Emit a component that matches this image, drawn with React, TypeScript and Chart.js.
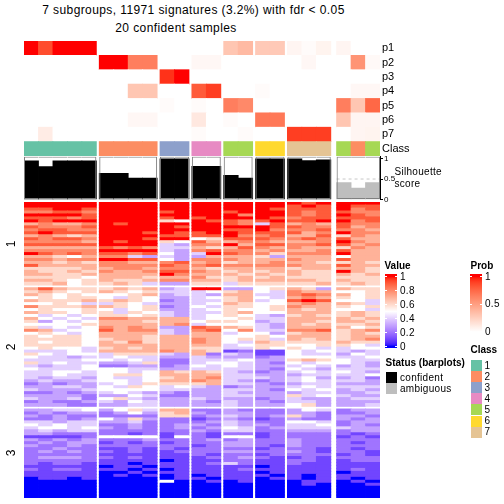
import React, { useEffect, useRef } from "react";
import { Chart, registerables } from "chart.js";

Chart.register(...registerables);

// ---------------- data ----------------
const TITLE_LINE_1 = "7 subgroups, 11971 signatures (3.2%) with fdr < 0.05";
const TITLE_LINE_2 = "20 confident samples";

// samples (columns), in plotted order
const SAMPLE_CLASS = [1, 1, 1, 1, 1, 2, 2, 2, 2, 3, 3, 4, 4, 5, 5, 6, 6, 7, 7, 7, 5, 2, 5];
const SAMPLE_CONFIDENT = [
  true, true, true, true, true, true, true, true, true, true, true, true,
  true, true, true, true, true, true, true, true, false, false, false,
];
const SILHOUETTE = [
  0.94, 0.8, 0.94, 0.94, 0.94, 0.64, 0.64, 0.52, 0.52, 0.99, 0.99, 0.81,
  0.81, 0.59, 0.52, 0.99, 0.99, 0.99, 0.95, 0.97, 0.41, 0.28, 0.41,
];

// membership probabilities
const PROB_P1 = [1, 0.85, 1, 1, 1, 0, 0, 0, 0, 0, 0, 0, 0, 0.3, 0.36, 0.28, 0.28, 0.05, 0.02, 0.06, 0.05, 0, 0];
const PROB_P2 = [0, 0, 0, 0, 0, 1, 1, 0.65, 0.65, 0, 0, 0.04, 0.04, 0, 0, 0, 0, 0, 0.04, 0, 0, 0.55, 0.03];
const PROB_P3 = [0, 0, 0, 0, 0, 0, 0, 0, 0, 0.93, 1, 0, 0, 0, 0, 0, 0, 0, 0, 0, 0, 0, 0];
const PROB_P4 = [0, 0, 0, 0, 0, 0, 0, 0.3, 0.3, 0, 0, 0.8, 0.9, 0, 0, 0.02, 0, 0, 0, 0, 0, 0.04, 0.04];
const PROB_P5 = [0, 0, 0, 0, 0, 0, 0, 0, 0, 0.02, 0, 0.02, 0, 0.65, 0.6, 0, 0, 0, 0, 0, 0.65, 0.3, 0.75];
const PROB_P6 = [0, 0, 0, 0, 0, 0, 0, 0.04, 0.04, 0, 0, 0.12, 0, 0.02, 0, 0.68, 0.68, 0, 0, 0, 0.3, 0.05, 0.05];
const PROB_P7 = [0, 0.1, 0, 0, 0, 0, 0, 0, 0, 0, 0, 0.02, 0, 0, 0.02, 0, 0, 0.9, 0.9, 0.9, 0, 0.05, 0.06];
const PROB_NAMES = ["p1", "p2", "p3", "p4", "p5", "p6", "p7"];
const CLASS_ANNOTATION_NAME = "Class";

const CLASS_LEVELS = ["1", "2", "3", "4", "5", "6", "7"];
const CLASS_COLORS = ["#66C2A5", "#FC8D62", "#8DA0CB", "#E78AC3", "#A6D854", "#FFD92F", "#E5C494"];
const STATUS_LEVELS = ["confident", "ambiguous"];
const STATUS_COLORS = ["#000000", "#BEBEBE"];

const VALUE_BREAKS = [0, 0.5, 1];
const VALUE_COLORS = ["#0000FF", "#FFFFFF", "#FF0000"];
const PROB_BREAKS = [0, 1];
const PROB_COLORS = ["#FFFFFF", "#FF0000"];
const VALUE_LEGEND_TICKS = [0, 0.2, 0.4, 0.6, 0.8, 1];
const PROB_LEGEND_TICKS = [0, 0.5, 1];
const SILHOUETTE_TICKS = [0, 0.5, 1];
const SLICE_LABELS = ["1", "2", "3"];

// heatmap rows: one letter per sample, a = 0.0 ... f = 0.5 ... k = 1.0
// (spaces only separate the column groups for readability)
const HEATMAP_SLICE_1 = [
  "kkkkk kkkk kk kk kk kk kjk kkk",
  "kkkkk kkkk kk kk kk kk jkj kjj",
  "jjkkj kkkk kk kk kk kj jjj kij",
  "iijji kkkk jk kk jk kk jij jii",
  "kkkkj kkkk kk kk ki kk jij kji",
  "jjjij kkkk jk jk kk kj ijj jjj",
  "kjkkk kkkk gf kj ji jk jjk kij",
  "hihhi kjkk kk kk ji ej hih jii",
  "jiiij kkkk kj kk kk kj jii jhi",
  "ijjii kkkk kk kk jj ki iij iih",
  "jkjjj kkkj kj jk kj jj jhi kii",
  "hihgh kkkk jj jj ki ij hhj gih",
  "jijji kkkj kk fg jj ji iji jhh",
  "iiiih kjkk gf jh hi ih hhi kih",
  "jjjjj kkkk ed ii kh jj iij jhi",
  "hhhhh jiji ee hg hj ih ihh gih",
  "iiiii kkkk ed ij ii hi hhi jhh",
  "kjiji jjij fd ek ji ig iii khh",
  "hhgfh iied ed dh hh gd hhh fhh",
  "iihii kkjj fd ii ih hh ihh jhh",
  "hhghg iihh ij hi gh hi hhg ghg",
  "jhhhh iiii ji ij ii ii ihh jhh",
  "ggggh hiih ii hg hh hh ghh hhg",
  "hgghg ihhi jj ih gh gh hgg khg",
  "hhggh hhhh ki hh hg hg hgg hgh",
  "ggggf hhhg hh ig gh gh ggg ggg",
  "hhgfg hggh ii hh gh hh hhg hgg",
  "gghfg ghge dd gg eg gg ggh ghg",
];
const HEATMAP_SLICE_2 = [
  "hjhgg ghgh de kk dd fg hgd hgg",
  "ghgfg hgfg ee ef gh fe ihh ffg",
  "hgfgf ffgh de ed hh ee iji hfg",
  "fgfgg fegf dd ef gh fe hih gfg",
  "hgggh ghgf cd ee gh ef jkj ffe",
  "ffgfe egfe dd ef hg ff hih hge",
  "igggh hgfg cd fe gg fg ihh gfg",
  "fgffg fefg dd ef gf fg hgh ffe",
  "hggfg gegf ed ee gh ff hhh ghg",
  "fefef ggfg ed ef gf ed ghg ghg",
  "hfefe iihh hh ef fg ee hhh hgh",
  "gdfef hhhg hh fg gf de hhg hhg",
  "ffffg hhhh hi ef ff ed hgh ggh",
  "gefef ihih dd ji hg ed hhh hfg",
  "iheff jhii ed ij fi ee iij ghi",
  "fgfef hhhh ed hh ef fd ghh ghg",
  "gfggf hhhg hh hh ff gf hhh ghh",
  "ggggf ghhg hh ih fg ge hgh ghi",
  "gfggf hgig hh ih fe hg ggg hgg",
  "ggggf hhhh hh hh ef gg ffg gfe",
  "fgffe ghgh hh gg ee gf gfe eff",
  "eeefe hhhh ih hg bc bb fef ede",
  "gfeff eggg ed hc ed bb fee dfe",
  "feede efee dd ed dd cd fff eef",
  "eeeef fefe cc ee ef dd ghg fee",
  "gefee ddeg cc ef fe dc fef fed",
  "edeef ccdd cd fe fe dd efe ded",
  "feeef ffee dd ee ee dc fed eee",
  "eeffe ffef hg hg ed cd efe fed",
  "eefee fggf hh hh ee dd dee eef",
  "edeed feef gh hi ee ed efd dec",
  "dedde ffef hh ih ed cd efe eed",
  "cdcdd efeg gg gh ee dc dee ddd",
  "ddeed fegf ef ed cd dd efe eee",
  "eddde ffff ee dd ee dc fef ded",
  "ccdcd efed dc dd ed dd dee dde",
  "ddddc ddfe cc dd ee dd gef edd",
  "eddec fged dd ed dd cd edd dee",
  "cdccd edfe dd dc ed dc eed ddd",
  "dddcc ddee dd dd ed dd fgd dde",
];
const HEATMAP_SLICE_3 = [
  "ddeef dfge hh cc dc cc dfe cdd",
  "cdcdd cdfd gh dc dd cc ddc ccd",
  "dcdcc cccc gg cd ed cd gdc ddc",
  "ccdcd fdgd cc bc dc bc dcc dcd",
  "eedee ddec cc cd ed cc ffe cdd",
  "fefee ccdc cd dc ed dc eef cdc",
  "effef dcdc cd cd fe cd eee edd",
  "dedee cccc cc dc ee cc ddd cdd",
  "ddccc ccbc bc cb cc bc ccc cbc",
  "bbbbc ffff bf cb ff bc ccc bcb",
  "dcdcd cccd cc cd cd cc dcc ccc",
  "cdcdd bcbc bc cc dd cc dcc cbc",
  "dccdc cccc cc bc dd cb dcc ccc",
  "ccdcc bbcb cb cc cc bc ccb cbc",
  "cdcdc cbcb bc cc dd cc dcb ccb",
  "ccccc bbbb bb cb cc bc ccc bcb",
  "cdddc cbcb bb bc cd cb bcb ccc",
  "ccccc bbbb ab bb cc bb ccb bcc",
  "cbccb bbab bb bc ec bb cbb bbb",
  "bbbbb abba bb bb bb ab bbb bbb",
  "cbccb bbab ab bb bc bb bbb bcb",
  "bbbbb aaba bb bb bb ab bbb abb",
  "bbbbb abab ab ab bb ba bab bbb",
  "abbab aaaa ab ba bb ab bab bab",
  "aaaaa aaaa fa ab ab aa abb aba",
  "aaaaa aaaa aa aa aa aa aba aab",
  "aaaaa aaaa aa aa aa aa aaa aaa",
  "aaaaa aaaa aa aa aa aa aaa aaa",
  "aaaaa aaaa aa aa aa aa aaa aaa",
  "aaaaa aaaa aa aa aa aa aaa aaa",
];

// ---------------- layout / style ----------------
const FONT = '"Liberation Sans", Arial, Helvetica, sans-serif';
const GROUP_GAP = 0.2;
const AMBIGUOUS_GAP = 0.4;
const SLICE_GAP = 0.85;
const SIL_MAX = 1.05;
const HEAT_LEFT = 24;
const HEAT_RIGHT = 380;
const HEAT_TOP = 202;
const HEAT_HEIGHT = 296;

// ---------------- helpers ----------------
const decodeRow = (s: string) =>
  s.replace(/ /g, "").split("").map((c) => (c.charCodeAt(0) - 97) / 10);

function hexToRgb(hex: string) {
  const n = parseInt(hex.slice(1), 16);
  return [(n >> 16) & 255, (n >> 8) & 255, n & 255];
}
const toLinear = (c: number) => {
  const s = c / 255;
  return s <= 0.04045 ? s / 12.92 : Math.pow((s + 0.055) / 1.055, 2.4);
};
const fromLinear = (c: number) => {
  const s = c <= 0.0031308 ? 12.92 * c : 1.055 * Math.pow(Math.max(c, 0), 1 / 2.4) - 0.055;
  return Math.round(Math.min(1, Math.max(0, s)) * 255);
};
const XN = 0.95047, ZN = 1.08883;
const labF = (t: number) => (t > 216 / 24389 ? Math.cbrt(t) : ((24389 / 27) * t + 16) / 116);
const labFInv = (t: number) => {
  const t3 = t * t * t;
  return t3 > 216 / 24389 ? t3 : (116 * t - 16) / (24389 / 27);
};
function rgbToLab(rgb: number[]) {
  const [r, g, b] = rgb.map(toLinear);
  const x = (0.4124564 * r + 0.3575761 * g + 0.1804375 * b) / XN;
  const y = 0.2126729 * r + 0.7151522 * g + 0.072175 * b;
  const z = (0.0193339 * r + 0.119192 * g + 0.9503041 * b) / ZN;
  const fx = labF(x), fy = labF(y), fz = labF(z);
  return [116 * fy - 16, 500 * (fx - fy), 200 * (fy - fz)];
}
function labToRgb(lab: number[]) {
  const [L, a, b] = lab;
  const fy = (L + 16) / 116, fx = fy + a / 500, fz = fy - b / 200;
  const x = XN * labFInv(fx), y = labFInv(fy), z = ZN * labFInv(fz);
  const r = 3.2404542 * x - 1.5371385 * y - 0.4985314 * z;
  const g = -0.969266 * x + 1.8760108 * y + 0.041556 * z;
  const bb = 0.0556434 * x - 0.2040259 * y + 1.0572252 * z;
  return [fromLinear(r), fromLinear(g), fromLinear(bb)];
}
function makeRamp(breaks: number[], colors: string[]) {
  const labs = colors.map((c) => rgbToLab(hexToRgb(c)));
  return (v: number) => {
    const x = Math.min(breaks[breaks.length - 1], Math.max(breaks[0], v));
    let i = 0;
    while (i < breaks.length - 2 && x > breaks[i + 1]) i++;
    const t = (x - breaks[i]) / (breaks[i + 1] - breaks[i]);
    const lab = labs[i].map((c, k) => c + (labs[i + 1][k] - c) * t);
    const [r, g, b] = labToRgb(lab);
    return `rgb(${r},${g},${b})`;
  };
}
const valueColor = makeRamp(VALUE_BREAKS, VALUE_COLORS);
const probColor = makeRamp(PROB_BREAKS, PROB_COLORS);

// column positions (in column units) derived from the grouping
const groupKey = (i: number) => (SAMPLE_CONFIDENT[i] ? "c" + SAMPLE_CLASS[i] : "amb");
const colCenters: number[] = [];
const groups: { first: number; last: number }[] = [];
let pos = 0;
SAMPLE_CLASS.forEach((_, i) => {
  if (i > 0 && groupKey(i) !== groupKey(i - 1)) {
    pos += groupKey(i) === "amb" ? AMBIGUOUS_GAP : GROUP_GAP;
    groups[groups.length - 1].last = i - 1;
    groups.push({ first: i, last: i });
  }
  if (i === 0) groups.push({ first: 0, last: 0 });
  colCenters.push(pos + 0.5);
  pos += 1;
});
groups[groups.length - 1].last = SAMPLE_CLASS.length - 1;
const X_MAX = pos;

const PROB_ROWS = [PROB_P1, PROB_P2, PROB_P3, PROB_P4, PROB_P5, PROB_P6, PROB_P7];
const ANNOT_NAMES = [...PROB_NAMES, CLASS_ANNOTATION_NAME];

const SLICES = [HEATMAP_SLICE_1, HEATMAP_SLICE_2, HEATMAP_SLICE_3].map((s) => s.map(decodeRow));
const sliceStarts: number[] = [];
let yTotal = 0;
SLICES.forEach((rows, si) => {
  if (si > 0) yTotal += SLICE_GAP;
  sliceStarts.push(yTotal);
  yTotal += rows.length;
});
const Y_TOTAL = yTotal;

const xScale = () => ({
  type: "linear" as const,
  min: 0,
  max: X_MAX,
  offset: false,
  display: false,
  ticks: { stepSize: 5, includeBounds: false },
  grid: { display: false },
});

const barDefaults = {
  barPercentage: 1,
  categoryPercentage: 1,
  grouped: false,
  borderWidth: 0,
  inflateAmount: 0.4,
};

const commonOptions = {
  responsive: false,
  animation: false as const,
  events: [] as any[],
  plugins: { legend: { display: false }, tooltip: { enabled: false }, title: { display: false } },
};

// ---------------- components ----------------
type LabelProps = {
  x: number;
  y: number;
  text: string;
  size?: number;
  bold?: boolean;
  align?: "left" | "center";
  rotate?: boolean;
  spacing?: number;
};
function Label({ x, y, text, size = 10, bold = false, align = "left", rotate = false, spacing = 0 }: LabelProps) {
  const tx = align === "center" ? "-50%" : "0";
  return (
    <div
      style={{
        position: "absolute",
        left: x,
        top: y,
        transform: `translate(${tx}, -50%)${rotate ? " rotate(-90deg)" : ""}`,
        fontSize: size,
        fontWeight: bold ? "bold" : "normal",
        lineHeight: 1,
        whiteSpace: "nowrap",
        fontFamily: FONT,
        color: "#000",
        letterSpacing: spacing,
      }}
    >
      {text}
    </div>
  );
}

function gradient(colorFn: (v: number) => string, top: number, bottom: number, y1: number, y0: number) {
  const stops: string[] = [];
  for (let k = 0; k <= 40; k++) {
    const v = 1 - k / 40;
    const y = y0 - (y0 - y1) * v;
    stops.push(`${colorFn(v)} ${(((y - top) / (bottom - top)) * 100).toFixed(2)}%`);
  }
  return `linear-gradient(to bottom, ${colorFn(1)} 0%, ${stops.join(", ")}, ${colorFn(0)} 100%)`;
}

function ColorBar({
  left, top, width, bottom, y1, y0, ticks, colorFn, labelX,
}: {
  left: number; top: number; width: number; bottom: number; y1: number; y0: number;
  ticks: number[]; colorFn: (v: number) => string; labelX: number;
}) {
  return (
    <>
      <div
        style={{
          position: "absolute",
          left,
          top,
          width,
          height: bottom - top,
          background: gradient(colorFn, top, bottom, y1, y0),
        }}
      />
      {ticks.map((t) => {
        const y = y0 - (y0 - y1) * t;
        return (
          <React.Fragment key={t}>
            <div style={{ position: "absolute", left, top: y - 0.5, width: 2, height: 1, background: "#fff" }} />
            <div style={{ position: "absolute", left: left + width - 2, top: y - 0.5, width: 2, height: 1, background: "#fff" }} />
            <Label x={labelX} y={y} text={String(t)} size={10} spacing={0.3} />
          </React.Fragment>
        );
      })}
    </>
  );
}

export default function App() {
  const annotRef = useRef<HTMLCanvasElement>(null);
  const silRef = useRef<HTMLCanvasElement>(null);
  const heatRef = useRef<HTMLCanvasElement>(null);

  useEffect(() => {
    const charts: Chart[] = [];

    // --- probability heatmap + class annotation ---
    const annotData: any[] = [];
    const annotColors: string[] = [];
    PROB_ROWS.forEach((row, r) => {
      row.forEach((v, c) => {
        annotData.push({ x: colCenters[c], y: [r, r + 1] });
        annotColors.push(probColor(v));
      });
    });
    SAMPLE_CLASS.forEach((cls, c) => {
      annotData.push({ x: colCenters[c], y: [PROB_ROWS.length, PROB_ROWS.length + 1] });
      annotColors.push(CLASS_COLORS[cls - 1]);
    });
    if (annotRef.current) {
      charts.push(
        new Chart(annotRef.current, {
          type: "bar",
          data: {
            datasets: [{ ...barDefaults, data: annotData, backgroundColor: annotColors } as any],
          },
          options: {
            ...commonOptions,
            layout: { padding: { left: HEAT_LEFT, right: 0, top: 10, bottom: 10 } },
            scales: {
              x: xScale(),
              y: {
                type: "linear",
                position: "right",
                reverse: true,
                min: 0,
                max: ANNOT_NAMES.length,
                afterFit: (s: any) => {
                  s.width = 504 - HEAT_RIGHT;
                },
                afterBuildTicks: (s: any) => {
                  s.ticks = ANNOT_NAMES.map((_, i) => ({ value: i + 0.5 }));
                },
                ticks: {
                  autoSkip: false,
                  padding: 2,
                  color: "#000",
                  font: { family: FONT, size: 11 },
                  callback: (_v: any, i: number) => ANNOT_NAMES[i],
                },
                grid: { display: false, drawTicks: false },
                border: { display: false },
              },
            },
          } as any,
        })
      );
    }

    // --- silhouette barplot ---
    const silBars = SILHOUETTE.map((v, c) => ({ x: colCenters[c], y: v }));
    const silColors = SAMPLE_CONFIDENT.map((ok) => (ok ? STATUS_COLORS[0] : STATUS_COLORS[1]));
    const frameData = SAMPLE_CLASS.map((_, c) => ({ x: colCenters[c], y: [0, SIL_MAX] }));
    const frameBorders = SAMPLE_CLASS.map((_, c) => {
      const g = groups.find((gr) => c >= gr.first && c <= gr.last)!;
      return { top: 1, bottom: 1, left: c === g.first ? 1 : 0, right: c === g.last ? 1 : 0 };
    });
    const amb = groups[groups.length - 1];
    const dashData = [
      { x: colCenters[amb.first] - 0.5, y: 0.5 },
      { x: colCenters[amb.last] + 0.5, y: 0.5 },
    ];
    if (silRef.current) {
      charts.push(
        new Chart(silRef.current, {
          type: "bar",
          data: {
            datasets: [
              {
                ...barDefaults,
                inflateAmount: 0,
                data: frameData,
                backgroundColor: "rgba(0,0,0,0)",
                borderColor: "#7F7F7F",
                borderWidth: frameBorders,
                borderSkipped: false,
              } as any,
              {
                type: "line",
                data: dashData,
                borderColor: "#C8C8C8",
                borderWidth: 1,
                borderDash: [3, 3],
                pointRadius: 0,
                fill: false,
              } as any,
              { ...barDefaults, data: silBars, backgroundColor: silColors } as any,
            ],
          },
          options: {
            ...commonOptions,
            layout: { padding: { left: HEAT_LEFT, right: 0, top: 10.5, bottom: 10.5 } },
            scales: {
              x: xScale(),
              y: {
                type: "linear",
                position: "right",
                min: 0,
                max: SIL_MAX,
                afterFit: (s: any) => {
                  s.width = 504 - HEAT_RIGHT;
                },
                afterBuildTicks: (s: any) => {
                  s.ticks = SILHOUETTE_TICKS.map((v) => ({ value: v }));
                },
                ticks: {
                  autoSkip: false,
                  padding: 1,
                  color: "#000",
                  font: { family: FONT, size: 8 },
                  callback: (v: any) => String(v),
                },
                grid: { display: true, drawOnChartArea: false, drawTicks: true, tickLength: 3, color: "#000" },
                border: { display: true, color: "#000", width: 1 },
              },
            },
          } as any,
        })
      );
    }

    // --- main heatmap ---
    const heatData: any[] = [];
    const heatColors: string[] = [];
    SLICES.forEach((rows, si) => {
      rows.forEach((vals, r) => {
        vals.forEach((v, c) => {
          const y0 = sliceStarts[si] + r;
          heatData.push({ x: colCenters[c], y: [y0, y0 + 1] });
          heatColors.push(valueColor(v));
        });
      });
    });
    if (heatRef.current) {
      charts.push(
        new Chart(heatRef.current, {
          type: "bar",
          data: { datasets: [{ ...barDefaults, data: heatData, backgroundColor: heatColors } as any] },
          options: {
            ...commonOptions,
            layout: { padding: 0 },
            scales: {
              x: xScale(),
              y: {
                type: "linear",
                display: false,
                reverse: true,
                min: 0,
                max: Y_TOTAL,
                grid: { display: false },
              },
            },
          } as any,
        })
      );
    }

    return () => charts.forEach((c) => c.destroy());
  }, []);

  const rowUnit = HEAT_HEIGHT / Y_TOTAL;

  return (
    <div
      style={{
        position: "absolute",
        left: 0,
        top: 0,
        width: 504,
        height: 504,
        background: "#fff",
        overflow: "hidden",
        fontFamily: FONT,
      }}
    >
      <Label x={193.5} y={9.5} text={TITLE_LINE_1} size={12} align="center" spacing={0.4} />
      <Label x={176} y={27.5} text={TITLE_LINE_2} size={12} align="center" spacing={0.4} />

      <canvas ref={annotRef} width={504} height={135} style={{ position: "absolute", left: 0, top: 31 }} />
      <canvas ref={silRef} width={504} height={64} style={{ position: "absolute", left: 0, top: 146 }} />
      <canvas
        ref={heatRef}
        width={HEAT_RIGHT - HEAT_LEFT}
        height={HEAT_HEIGHT}
        style={{ position: "absolute", left: HEAT_LEFT, top: HEAT_TOP }}
      />

      <Label x={394.5} y={172} text="Silhouette" size={10} spacing={0.3} />
      <Label x={394.5} y={183.5} text="score" size={10} spacing={0.3} />

      {SLICE_LABELS.map((t, i) => (
        <Label
          key={t}
          x={11}
          y={HEAT_TOP + (sliceStarts[i] + SLICES[i].length / 2) * rowUnit}
          text={t}
          size={12}
          align="center"
          rotate
        />
      ))}

      {/* Value legend */}
      <Label x={384.5} y={265.5} text="Value" size={10} bold />
      <ColorBar left={385} top={274.3} width={12.3} bottom={348.3} y1={276.7} y0={346.7}
        ticks={VALUE_LEGEND_TICKS} colorFn={valueColor} labelX={400} />

      {/* Prob legend */}
      <Label x={470.5} y={265.5} text="Prob" size={10} bold />
      <ColorBar left={470} top={274.3} width={11.7} bottom={334} y1={276.7} y0={331.7}
        ticks={PROB_LEGEND_TICKS} colorFn={probColor} labelX={485} />

      {/* Class legend */}
      <Label x={470.5} y={350} text="Class" size={10} bold />
      {CLASS_LEVELS.map((lv, i) => (
        <React.Fragment key={lv}>
          <div style={{ position: "absolute", left: 470.5, top: 360 + i * 11.1, width: 11, height: 11.1, background: CLASS_COLORS[i] }} />
          <Label x={484.5} y={365.5 + i * 11.1} text={lv} size={10} />
        </React.Fragment>
      ))}

      {/* Status legend */}
      <Label x={385.5} y={362.7} text="Status (barplots)" size={10} bold />
      {STATUS_LEVELS.map((lv, i) => (
        <React.Fragment key={lv}>
          <div style={{ position: "absolute", left: 385.5, top: 372 + i * 11.2, width: 11.3, height: 11.2, background: STATUS_COLORS[i] }} />
          <Label x={400} y={377.5 + i * 11.2} text={lv} size={10} spacing={0.3} />
        </React.Fragment>
      ))}
    </div>
  );
}
